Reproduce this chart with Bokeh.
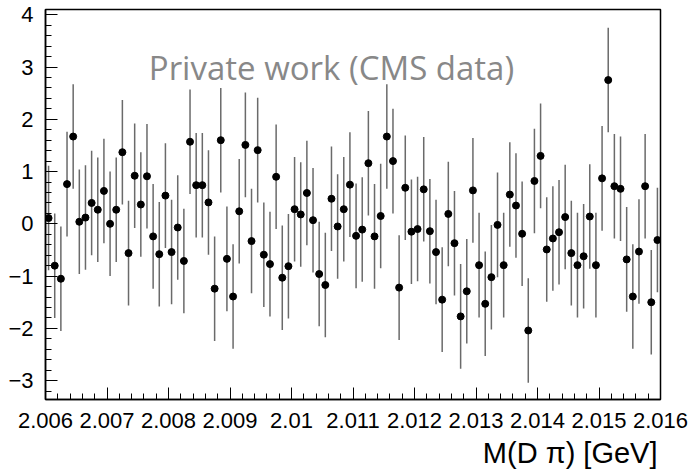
import numpy as np
from bokeh.plotting import figure
from bokeh.models import Range1d, FixedTicker, Label, Title
from bokeh.embed import file_html
from bokeh.resources import INLINE

# ---------------- data ----------------
mass_lo = 2.006
mass_hi = 2.016
bin_width = 0.0001

pulls = [
    0.11, -0.80, -1.05, 0.76, 1.67, 0.04, 0.12, 0.40, 0.27, 0.63,
    0.00, 0.27, 1.37, -0.56, 0.92, 0.37, 0.91, -0.24, -0.58, 0.54,
    -0.54, -0.07, -0.71, 1.57, 0.74, 0.74, 0.41, -1.24, 1.60, -0.67,
    -1.39, 0.24, 1.51, -0.33, 1.41, -0.59, -0.77, 0.90, -1.03, -0.81,
    0.28, 0.18, 0.59, 0.07, -0.96, -1.17, 0.48, -0.05, 0.28, 0.75,
    -0.23, -0.11, 1.16, -0.24, 0.15, 1.67, 1.20, -1.22, 0.69, -0.15,
    -0.10, 0.66, -0.14, -0.54, -1.45, 0.19, -0.37, -1.77, -1.29, 0.64,
    -0.79, -1.53, -1.02, -0.02, -0.79, 0.56, 0.35, -0.19, -2.04, 0.82,
    1.30, -0.49, -0.28, -0.16, 0.13, -0.56, -0.79, -0.62, 0.14, -0.79,
    0.87, 2.75, 0.72, 0.67, -0.68, -1.39, -0.53, 0.72, -1.50, -0.31,
]

pull_errors = [
    1.0, 1.0, 1.0, 1.0, 1.0, 1.0, 1.0, 1.0, 1.0, 1.0,
    1.0, 1.0, 1.0, 1.0, 1.0, 1.0, 1.0, 1.0, 1.0, 1.0,
    1.0, 1.0, 1.0, 1.0, 1.0, 1.0, 1.0, 1.0, 1.0, 1.0,
    1.0, 1.0, 1.0, 1.0, 1.0, 1.0, 1.0, 1.0, 1.0, 1.0,
    1.0, 1.0, 1.0, 1.0, 1.0, 1.0, 1.0, 1.0, 1.0, 1.0,
    1.0, 1.0, 1.0, 1.0, 1.0, 1.0, 1.0, 1.0, 1.0, 1.0,
    1.0, 1.0, 1.0, 1.0, 1.0, 1.0, 1.0, 1.0, 1.0, 1.0,
    1.0, 1.0, 1.0, 1.0, 1.0, 1.0, 1.0, 1.0, 1.0, 1.0,
    1.0, 1.0, 1.0, 1.0, 1.0, 1.0, 1.0, 1.0, 1.0, 1.0,
    1.0, 1.0, 1.0, 1.0, 1.0, 1.0, 1.0, 1.0, 1.0, 1.0,
]

x_ticks = [2.006, 2.007, 2.008, 2.009, 2.010, 2.011, 2.012, 2.013, 2.014, 2.015, 2.016]
x_tick_labels = ["2.006", "2.007", "2.008", "2.009", "2.01", "2.011",
                 "2.012", "2.013", "2.014", "2.015", "2.016"]
y_ticks = [-3, -2, -1, 0, 1, 2, 3, 4]
y_tick_labels = ["\u22123", "\u22122", "\u22121", "0", "1", "2", "3", "4"]

x_title = "M(D \u03c0) [GeV]"
watermark = "Private work (CMS data)"

# ---------------- derived ----------------
x = np.array([mass_lo + bin_width * (i + 0.5) for i in range(len(pulls))])
y = np.array(pulls)
err = np.array(pull_errors)

y_lo, y_hi = -3.36, 4.10
x_minor = list(np.round(np.arange(mass_lo, mass_hi + 1e-9, 0.0002), 6))
y_minor = list(np.round(np.arange(-3.4, 4.2, 0.2), 3))

# ---------------- figure ----------------
p = figure(width=692, height=476, output_backend="svg", toolbar_location=None,
           x_range=Range1d(mass_lo, mass_hi), y_range=Range1d(y_lo, y_hi),
           min_border_left=45, min_border_right=32, min_border_top=9,
           min_border_bottom=77)

p.grid.visible = False
p.background_fill_color = "white"
p.border_fill_color = "white"
p.outline_line_color = "black"
p.outline_line_width = 1.5

p.segment(x, y - err, x, y + err, line_color="#6a6a6a", line_width=1.5)
p.scatter(x, y, size=7, color="black")

tick_font = "Liberation Sans"

xa = p.xaxis[0]
xa.ticker = FixedTicker(ticks=x_ticks, minor_ticks=x_minor)
xa.major_label_overrides = {t: l for t, l in zip(x_ticks, x_tick_labels)}
ya = p.yaxis[0]
ya.ticker = FixedTicker(ticks=y_ticks, minor_ticks=y_minor)
ya.major_label_overrides = {t: l for t, l in zip(y_ticks, y_tick_labels)}

for ax in (xa, ya):
    ax.major_tick_in = 12
    ax.major_tick_out = 0
    ax.minor_tick_in = 6
    ax.minor_tick_out = 0
    ax.major_tick_line_width = 1
    ax.minor_tick_line_width = 1
    ax.axis_line_width = 1.5
    ax.major_label_text_font = tick_font
    ax.major_label_text_font_size = "22px"
    ax.major_label_text_color = "black"

xa.major_label_standoff = 13
xa.major_label_text_line_height = 1.0
ya.major_label_standoff = 12

# x-axis title, right-aligned under the frame
xt = Title(text=x_title, align="right", standoff=8, offset=3,
           text_font=tick_font, text_font_size="29px",
           text_font_style="normal", text_color="black",
           text_line_height=1.0)
p.add_layout(xt, "below")

wm = Label(x=2.01065, y=2.99, text=watermark, text_align="center",
           text_baseline="alphabetic", text_color="#888888",
           text_font="Open Sans", text_font_size="33px")
p.add_layout(wm)

open("out.html", "w").write(file_html(p, INLINE))
